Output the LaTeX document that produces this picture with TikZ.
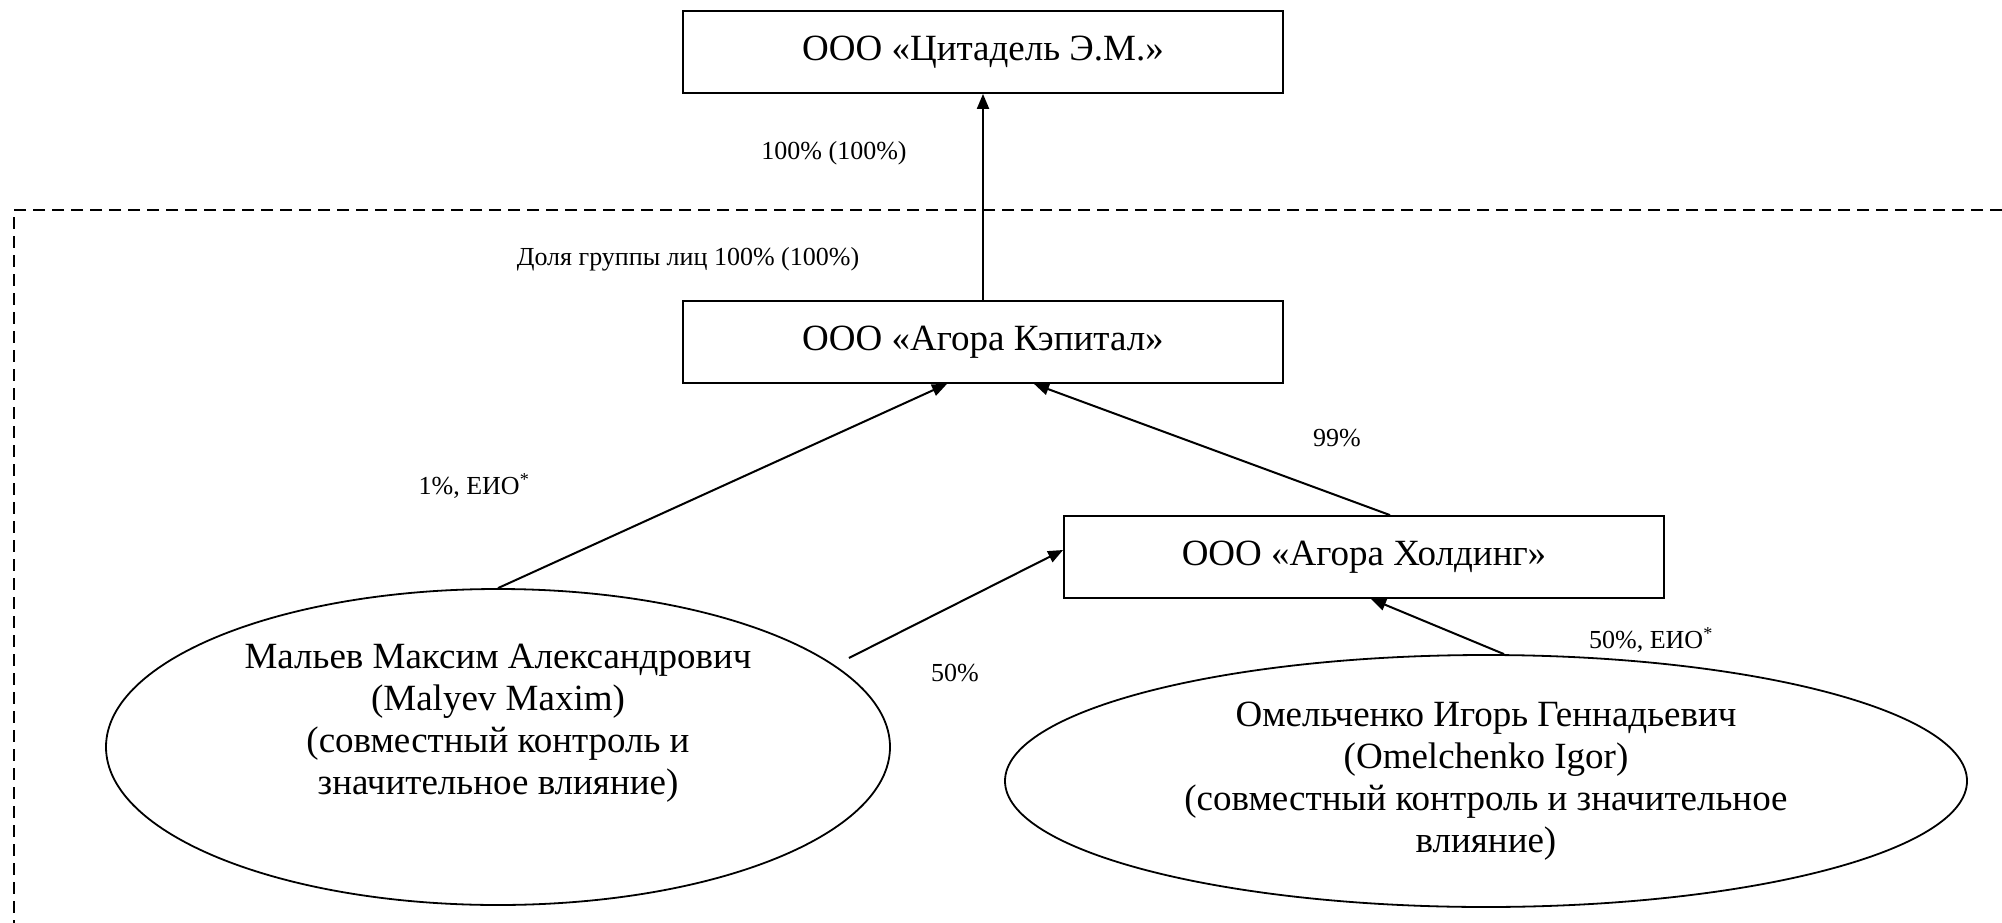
\documentclass[tikz,border=0pt]{standalone}
\usepackage{fontspec}
\setmainfont{Liberation Serif}
\usetikzlibrary{arrows.meta,shapes.geometric,positioning}
\tikzset{
  firm/.style={draw, line width=1.8pt, minimum width=600pt, minimum height=82pt,
    font=\fontsize{37}{42}\selectfont},
  person/.style={draw, ellipse, line width=1.8pt, align=center, inner sep=0pt,
    font=\fontsize{37}{42}\selectfont},
  share/.style={font=\fontsize{26}{29}\selectfont},
  own/.style={line width=2pt, -{Triangle[length=15pt,width=12pt]}}
}

\begin{document}
\begin{tikzpicture}[x=1pt,y=-1pt]
\useasboundingbox (0,0) rectangle (2002,923);

% group of persons
\draw[line width=1.8pt, dash pattern=on 12pt off 7pt] (2002,210) -- (14,210) -- (14,923);

\node[firm] (citadel) at (983,52) {ООО «Цитадель Э.М.»};
\node[firm] (kapital) at (983,342) {ООО «Агора Кэпитал»};
\node[firm] (holding) at (1364,557) {ООО «Агора Холдинг»};

\node[person, minimum width=784pt, minimum height=316pt] (malyev) at (498,747)
  {Мальев Максим Александрович\\(Malyev Maxim)\\(совместный контроль и\\значительное влияние)\\ \strut};
\node[person, minimum width=962pt, minimum height=252pt] (omel) at (1486,781)
  {Омельченко Игорь Геннадьевич\\(Omelchenko Igor)\\(совместный контроль и значительное\\влияние)};

% shares
\draw[own] (kapital) -- (citadel);
\draw[own] (malyev.north) -- ([xshift=-36pt]kapital.south);
\draw[own] ([xshift=26pt]holding.north) -- ([xshift=51pt]kapital.south);
\draw[own] ([xshift=-42pt,yshift=89pt]malyev.east) -- ([yshift=7pt]holding.west);
\draw[own] ([xshift=18pt]omel.north) -- ([xshift=7pt]holding.south);

\node[share] (l-citadel) at (834,153) {100\% (100\%)};
\node[share] (l-group) at (688,259) {Доля группы лиц 100\% (100\%)};
\node[share] (l-malyev) at (474,486) {1\%, ЕИО\textsuperscript{*}};
\node[share] (l-holding) at (1337,438) {99\%};
\node[share] (l-malyev2) at (955,673) {50\%};
\node[share] (l-omel) at (1651,640) {50\%, ЕИО\textsuperscript{*}};
\end{tikzpicture}
\end{document}
